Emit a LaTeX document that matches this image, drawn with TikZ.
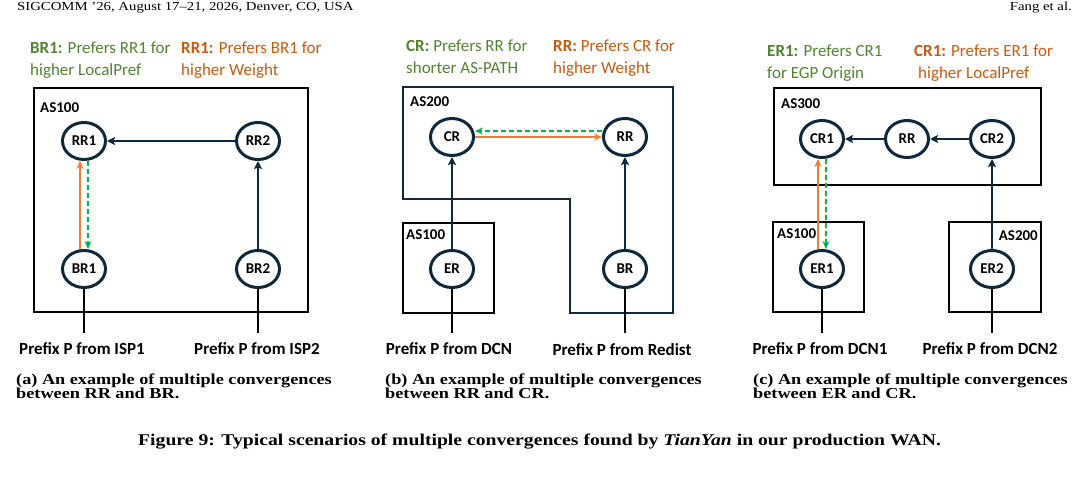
\documentclass[tikz,border=0pt]{standalone}
\usepackage{fontspec}
\usepackage{tikz}
\usetikzlibrary{arrows.meta, shapes.geometric}

\newfontfamily\carlito{Carlito}
\newfontfamily\capserif[FakeStretch=1.2]{Liberation Serif}
\definecolor{navy}{HTML}{10283C}
\definecolor{lineorange}{HTML}{ED7D31}
\definecolor{linegreen}{HTML}{00B050}
\definecolor{txtgreen}{HTML}{548235}
\definecolor{txtorange}{HTML}{C55A11}

\begin{document}
\begin{tikzpicture}[x=1pt, y=-1pt,
    router/.style={ellipse, draw=navy, line width=3pt, minimum width=43pt, minimum height=37pt, inner sep=0pt,
                   font=\carlito\bfseries\fontsize{15}{15}\selectfont},
    asbox/.style={draw=black, line width=2.8pt},
    aslabel/.style={inner sep=0pt, font=\carlito\bfseries\fontsize{15}{15}\selectfont},
    prefnote/.style={anchor=north west, inner sep=0pt, align=left, font=\carlito\fontsize{17}{21.5}\selectfont},
    srcnote/.style={anchor=base, inner sep=0pt, font=\carlito\bfseries\fontsize{17}{17}\selectfont},
    subcap/.style={anchor=north west, inner sep=0pt, align=left, font=\capserif\bfseries\fontsize{15.2}{14}\selectfont},
    bgp/.style={-{Stealth[length=8pt, width=8pt, inset=1.5pt]}, draw=navy, line width=2.8pt},
    prefer/.style={-{Stealth[length=8pt, width=7pt]}, draw=lineorange, line width=2.8pt},
    choose/.style={-{Stealth[length=8pt, width=7pt]}, draw=linegreen, line width=2.8pt, dash pattern=on 5pt off 3pt},
    feed/.style={draw=black, line width=2.8pt}]

    \useasboundingbox (0,0) rectangle (1090,490);
    \clip (0,0) rectangle (1090,490);

    % Page header
    \node[anchor=base west, inner sep=0pt, font=\capserif\fontsize{12.3}{12.3}\selectfont] (head) at (17,10) {SIGCOMM ’26, August 17–21, 2026, Denver, CO, USA};
    \node[anchor=base east, inner sep=0pt, font=\capserif\fontsize{12.3}{12.3}\selectfont] (auth) at (1072,10) {Fang et al.};

    % ---------------- (a) ----------------
    \node[prefnote, txtgreen] (na1) at (30,42) {\textbf{BR1:} Prefers RR1 for\\higher LocalPref};
    \node[prefnote, txtorange] (na2) at (181,42) {\textbf{RR1:} Prefers BR1 for\\higher Weight};

    \draw[asbox] (34,88) rectangle (308,312);
    \node[aslabel, anchor=base west] (asa) at (40,112) {AS100};

    \node[router] (rr1) at (84,141) {RR1};
    \node[router] (rr2) at (258,141) {RR2};
    \node[router] (br1) at (84,269) {BR1};
    \node[router] (br2) at (258,269) {BR2};

    \draw[bgp] (rr2) -- (rr1);
    \draw[bgp] (br2) -- (rr2);
    \draw[prefer] ([xshift=-4pt]br1.north) -- ([xshift=-4pt]rr1.south);
    \draw[choose] ([xshift=4pt]rr1.south) -- ([xshift=4pt]br1.north);

    \coordinate (ea1) at (84,333);
    \coordinate (ea2) at (258,333);
    \draw[feed] (br1) -- (ea1);
    \draw[feed] (br2) -- (ea2);
    \node[srcnote] (pa1) at (82,354) {Prefix P from ISP1};
    \node[srcnote] (pa2) at (257,354) {Prefix P from ISP2};

    \node[subcap] (capa) at (16,374) {(a) An example of multiple convergences\\between RR and BR.};

    % ---------------- (b) ----------------
    \node[prefnote, txtgreen] (nb1) at (406,40) {\textbf{CR:} Prefers RR for\\shorter AS-PATH};
    \node[prefnote, txtorange] (nb2) at (553,40) {\textbf{RR:} Prefers CR for\\higher Weight};

    \draw[draw=navy, line width=2.5pt] (403,87) -- (673,87) -- (673,313) -- (570,313) -- (570,199) -- (403,199) -- cycle;
    \node[aslabel, anchor=base west] (asb) at (410,106) {AS200};
    \draw[draw=black, line width=2.5pt] (403,223) rectangle (494,313);
    \node[aslabel, anchor=base west] (asb2) at (406,239) {AS100};

    \node[router] (cr) at (452,137) {CR};
    \node[router] (rr) at (625,137) {RR};
    \node[router] (er) at (452,269) {ER};
    \node[router] (br) at (625,269) {BR};

    \draw[bgp] (er) -- (cr);
    \draw[bgp] (br) -- (rr);
    \draw[choose] ([yshift=6pt]rr.west) -- ([yshift=6pt]cr.east);
    \draw[prefer] (cr) -- (rr);

    \coordinate (eb1) at (452,333);
    \coordinate (eb2) at (625,333);
    \draw[feed] (er) -- (eb1);
    \draw[feed] (br) -- (eb2);
    \node[srcnote] (pb1) at (449,354) {Prefix P from DCN};
    \node[srcnote] (pb2) at (622,355) {Prefix P from Redist};

    \node[subcap] (capb) at (385,374) {(b) An example of multiple convergences\\between RR and CR.};

    % ---------------- (c) ----------------
    \node[prefnote, txtgreen] (nc1) at (767,45) {\textbf{ER1:} Prefers CR1\\for EGP Origin};
    \node[prefnote, txtorange] (nc2) at (914,45) {\textbf{CR1:} Prefers ER1 for\\\hspace*{4pt}higher LocalPref};

    \draw[asbox] (774,88) rectangle (1041,185);
    \node[aslabel, anchor=base west] (asc) at (781,108) {AS300};
    \draw[asbox] (773,222) rectangle (864,312);
    \node[aslabel, anchor=base west] (asc1) at (777,238) {AS100};
    \draw[asbox] (949,222) rectangle (1041,312);
    \node[aslabel, anchor=base east] (asc2) at (1038,240) {AS200};

    \node[router] (cr1) at (822,139) {CR1};
    \node[router] (rrc) at (907,139) {RR};
    \node[router] (cr2) at (992,139) {CR2};
    \node[router] (er1) at (822,269) {ER1};
    \node[router] (er2) at (992,269) {ER2};

    \draw[bgp] (rrc) -- (cr1);
    \draw[bgp] (cr2) -- (rrc);
    \draw[bgp] (er2) -- (cr2);
    \draw[prefer] ([xshift=-4pt]er1.north) -- ([xshift=-4pt]cr1.south);
    \draw[choose] ([xshift=4pt]cr1.south) -- ([xshift=4pt]er1.north);

    \coordinate (ec1) at (822,333);
    \coordinate (ec2) at (992,333);
    \draw[feed] (er1) -- (ec1);
    \draw[feed] (er2) -- (ec2);
    \node[srcnote] (pc1) at (820,354) {Prefix P from DCN1};
    \node[srcnote] (pc2) at (990,354) {Prefix P from DCN2};

    \node[subcap] (capc) at (753,374) {(c) An example of multiple convergences\\between ER and CR.};

    % Figure caption
    \node[anchor=base west, inner sep=0pt, font=\capserif\bfseries\fontsize{16.4}{16.4}\selectfont] (figcap) at (138,445)
        {Figure 9: Typical scenarios of multiple convergences found by \textit{TianYan} in our production WAN.};

\end{tikzpicture}
\end{document}
